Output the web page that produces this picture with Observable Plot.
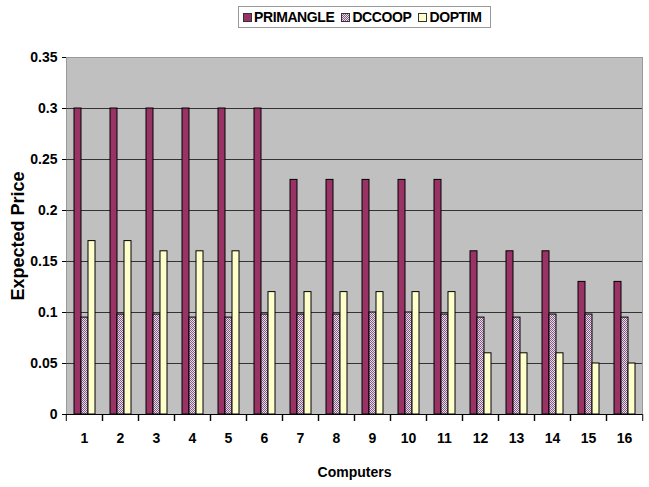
<!DOCTYPE html>
<html>
<head>
<meta charset="utf-8">
<script src="https://cdn.jsdelivr.net/npm/d3@7"></script>
<script src="https://cdn.jsdelivr.net/npm/@observablehq/plot@0.6"></script>
<style>
  body { margin: 0; background: #fff; }
  #legend { position: relative; width: 649px; height: 32px; }
  #legend .box {
    position: absolute; left: 238px; top: 6px; width: 247px; height: 20px;
    border: 1px solid #999; background: #fff; box-sizing: content-box;
    display: flex; align-items: center; padding-left: 4px;
    font-family: "Liberation Sans Narrow", "Arial Narrow", sans-serif;
    font-weight: bold; font-size: 14px; color: #000; letter-spacing: -0.4px;
  }
  #legend .item { display: flex; align-items: center; margin-right: 7px; }
  #legend .sw { width: 7px; height: 7px; border: 1px solid #333; margin-right: 2px; }
</style>
</head>
<body>
<div id="legend"><div class="box"></div></div>
<div id="chart"></div>
<script>
// Categories and series
const computers = ["1", "2", "3", "4", "5", "6", "7", "8", "9", "10", "11", "12", "13", "14", "15", "16"];
const seriesNames = ["PRIMANGLE", "DCCOOP", "DOPTIM"];
const primangle = [0.30, 0.30, 0.30, 0.30, 0.30, 0.30, 0.23, 0.23, 0.23, 0.23, 0.23, 0.16, 0.16, 0.16, 0.13, 0.13];
const dccoop    = [0.095, 0.098, 0.098, 0.095, 0.095, 0.098, 0.098, 0.098, 0.10, 0.10, 0.098, 0.095, 0.095, 0.098, 0.098, 0.095];
const doptim    = [0.17, 0.17, 0.16, 0.16, 0.16, 0.12, 0.12, 0.12, 0.12, 0.12, 0.12, 0.06, 0.06, 0.06, 0.05, 0.05];
const yTicks = [0, 0.05, 0.1, 0.15, 0.2, 0.25, 0.3, 0.35];

const seriesValues = {PRIMANGLE: primangle, DCCOOP: dccoop, DOPTIM: doptim};
const rows = computers.flatMap((c, i) =>
  seriesNames.map(s => ({computer: c, series: s, value: seriesValues[s][i]}))
);

const fills = ["#993366", "url(#dccoop-pattern)", "#ffffcc"];
const narrow = '"Liberation Sans Narrow", "Arial Narrow", sans-serif';

const W = 649, H = 455;
const mL = 62, mR = 4;
const step = (W - mL - mR) / computers.length;

const chart = Plot.plot({
  width: W,
  height: H,
  marginTop: 25,
  marginBottom: 73,
  marginLeft: mL,
  marginRight: mR,
  style: {fontFamily: narrow, fontSize: "14px", fontWeight: "bold", color: "#000", background: "transparent", overflow: "visible"},
  fx: {domain: computers, padding: 0},
  x: {domain: seriesNames, paddingInner: 0, paddingOuter: 0.78, axis: null},
  y: {domain: [0, 0.35]},
  color: {domain: seriesNames, range: fills},
  marks: [
    Plot.frame({facet: "super", fill: "#c0c0c0", stroke: "#9a9a9a"}),
    Plot.gridY(yTicks.slice(1, -1), {stroke: "#333", strokeOpacity: 1}),
    Plot.ruleY([0], {stroke: "#000"}),
    Plot.barY(rows, {fx: "computer", x: "series", y: "value", fill: "series", stroke: "#000", strokeWidth: 1}),
    Plot.axisY(yTicks, {tickSize: 4, tickPadding: 5, tickFormat: d => `${d}`, label: null, stroke: "#000",
      fontSize: 14, letterSpacing: -0.7}),
    Plot.axisY([], {label: "Expected Price", labelAnchor: "center", labelArrow: "none", labelOffset: 55,
      fontFamily: '"Liberation Sans", Arial, sans-serif', fontSize: 18, letterSpacing: 0.4}),
    Plot.axisFx({anchor: "bottom", tickSize: 0, tickPadding: 19, label: "Computers", labelAnchor: "center",
      labelArrow: "none", labelOffset: 62, letterSpacing: -0.5}),
    Plot.axisFx({anchor: "bottom", tickSize: 7, tickFormat: () => "", label: null, dx: -step / 2}),
    Plot.axisFx([computers[computers.length - 1]], {anchor: "bottom", tickSize: 7, tickFormat: () => "", label: null, dx: step / 2})
  ]
});

// checkered fill used by the DCCOOP bars
const defs = d3.select(chart).insert("defs", ":first-child");
const pat = defs.append("pattern")
  .attr("id", "dccoop-pattern")
  .attr("width", 2).attr("height", 2)
  .attr("patternUnits", "userSpaceOnUse");
pat.append("rect").attr("width", 2).attr("height", 2).attr("fill", "#e9dde9");
pat.append("rect").attr("width", 1).attr("height", 1).attr("fill", "#865a86");
pat.append("rect").attr("x", 1).attr("y", 1).attr("width", 1).attr("height", 1).attr("fill", "#865a86");

document.getElementById("chart").appendChild(chart);

// legend
const box = d3.select("#legend .box");
const swatchBg = [
  "#993366",
  "repeating-conic-gradient(#865a86 0 25%, #e9dde9 0 50%) 0 0 / 2px 2px",
  "#ffffcc"
];
seriesNames.forEach((s, i) => {
  const item = box.append("div").attr("class", "item");
  item.append("div").attr("class", "sw").style("background", swatchBg[i]);
  item.append("span").text(s);
});
</script>
</body>
</html>
